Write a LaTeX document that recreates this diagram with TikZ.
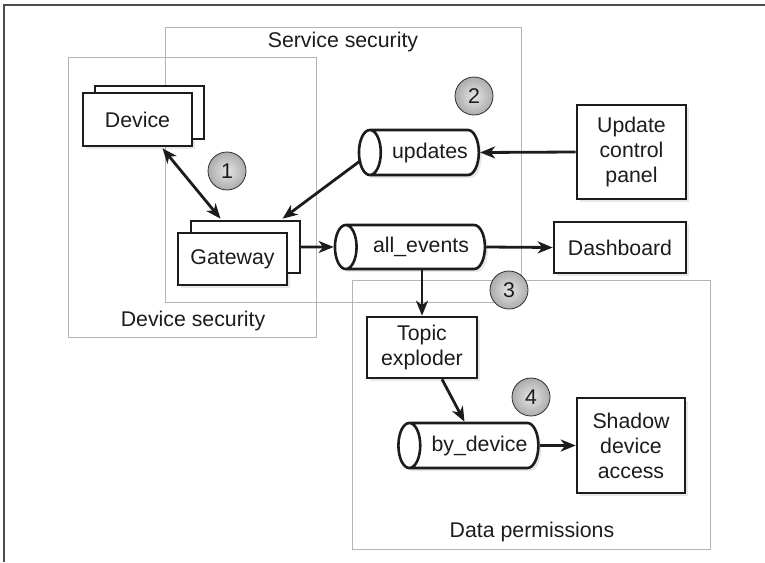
\documentclass[tikz,border=0pt]{standalone}
\usepackage{fontspec}
\setmainfont{Liberation Sans}
\usetikzlibrary{shapes.geometric,shadows,arrows.meta}
\definecolor{ink}{HTML}{1C1C1C}
\definecolor{zoneline}{HTML}{B4B4B4}
\begin{document}
\begin{tikzpicture}[x=1pt,y=-1pt,
    font=\fontsize{21.3}{25}\selectfont,
    box/.style={draw=ink, line width=2.6, fill=white, text=ink, align=center,
      inner sep=0pt, drop shadow={shadow xshift=3pt, shadow yshift=-3pt, opacity=0.18}},
    queue/.style={cylinder, shape border rotate=180, aspect=1.1, draw=ink,
      line width=2.6, fill=white, text=ink, inner sep=0pt,
      drop shadow={shadow xshift=3pt, shadow yshift=-3pt, opacity=0.18}},
    badge/.style={circle, draw=gray!35!black, line width=0.8, inner color=gray!20,
      outer color=gray!65, minimum size=38, inner sep=0pt, text=ink},
    zone/.style={draw=zoneline, line width=1},
    tip/.style={-{Stealth[length=15pt,width=12pt,inset=4.5pt]}},
    link/.style={draw=ink, line width=2.8, tip}]
  \useasboundingbox (0,0) rectangle (765,562);
  \draw[gray!60!black, line width=1.5] (4,562) -- (4,5) -- (765,5);

  \draw[zone] (68,57) rectangle (316,337);
  \draw[zone] (165,27) rectangle (521,302);
  \draw[zone] (352,280) rectangle (710,549);
  \node[text=ink] at (193,321) (devsec) {Device security};
  \node[text=ink] at (343,42) (servsec) {Service security};
  \node[text=ink] at (532,532) (dataperm) {Data permissions};

  \node[box, minimum width=109, minimum height=53,
    copy shadow={shadow xshift=12pt, shadow yshift=7pt}] at (137.5,119.5) (device) {Device};
  \node[box, minimum width=109, minimum height=52,
    copy shadow={shadow xshift=13pt, shadow yshift=12pt}] at (232.5,259) (gateway) {Gateway};
  \node[queue, minimum height=116, minimum width=45] at (425,152.5) (updates) {\hspace{10pt}updates};
  \node[box, minimum width=109, minimum height=94] at (631.5,152) (panel) {Update\\control\\panel};
  \node[queue, minimum height=150, minimum width=44] at (416,247) (events) {\hspace{10pt}all\_events};
  \node[box, minimum width=132, minimum height=51] at (620,247.5) (dashboard) {Dashboard};
  \node[box, minimum width=110, minimum height=61] at (422,347.5) (exploder) {Topic\\exploder};
  \node[queue, minimum height=135, minimum width=45] at (474.5,445.5) (bydevice) {\hspace{10pt}by\_device};
  \node[box, minimum width=108, minimum height=95] at (631,445.5) (shadow) {Shadow\\device\\access};

  \node[badge] at (227,171) (one) {1};
  \node[badge] at (474,96) (two) {2};
  \node[badge] at (509,290) (three) {3};
  \node[badge] at (531,397) (four) {4};

  \draw[link, {Stealth[length=15pt,width=12pt,inset=4.5pt]}-{Stealth[length=15pt,width=12pt,inset=4.5pt]}]
    ([shift={(25,1)}]device.south) -- ([shift={(-12,-13)}]gateway.north);
  \draw[link] ([shift={(3,8)}]updates.west) -- ([shift={(50,-13)}]gateway.north);
  \draw[link] (panel.west) -- (updates.east);
  \draw[link] ([shift={(12,-12)}]gateway.east) -- (events.west);
  \draw[link] (events.east) -- (dashboard.west);
  \draw[link] (events.south -| exploder.north) -- (exploder.north);
  \draw[link] ([shift={(20,0)}]exploder.south) -- ([shift={(-10,0)}]bydevice.north);
  \draw[link] (bydevice.east) -- (shadow.west);
\end{tikzpicture}
\end{document}
